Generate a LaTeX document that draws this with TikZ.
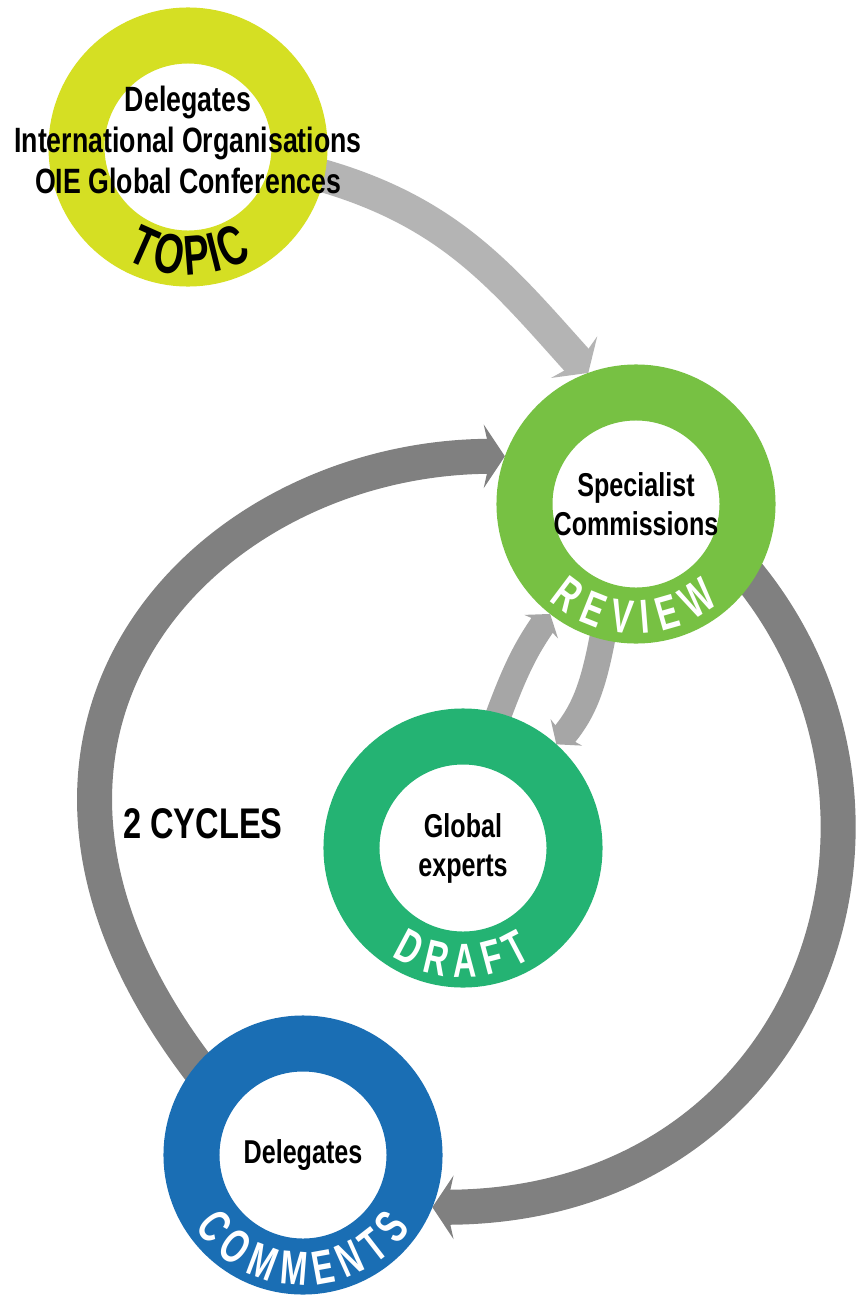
\documentclass[tikz,border=0pt]{standalone}
\usepackage{fontspec}
\setmainfont{Liberation Sans}[FakeStretch=0.76]
\newfontfamily\stagefont{Liberation Sans}[FakeStretch=0.68]
\usetikzlibrary{arrows.meta}
\usetikzlibrary{positioning}
\usetikzlibrary{backgrounds}
\definecolor{topicyellow}{RGB}{213,223,35}
\definecolor{reviewgreen}{RGB}{119,193,67}
\definecolor{draftgreen}{RGB}{36,179,115}
\definecolor{commentsblue}{RGB}{26,110,180}
\definecolor{cycledark}{RGB}{128,128,128}
\definecolor{topicgray}{RGB}{180,180,180}
\definecolor{draftgray}{RGB}{166,166,166}
\tikzset{x=0.025cm, y=0.025cm,
    stage/.style={
        circle,
        draw=#1,
        line width=1.4cm,
        minimum size=5.575cm,
        inner sep=0pt,
        fill=white,
        align=center,
        font=\bfseries\fontsize{23.5}{27.7}\selectfont},
    stagetext/.style={
        align=center,
        font=\bfseries\fontsize{25}{29.2}\selectfont},
    stagelabel/.style={
        inner sep=0pt,
        text=white,
        font=\stagefont\bfseries\fontsize{34}{34}\selectfont},
    bigarrow/.style={
        draw=cycledark,
        line width=0.875cm,
        shorten <=-10pt,
        -{Stealth[length=15pt,width=45pt,inset=5pt]}},
    topicarrow/.style={
        draw=topicgray,
        line width=0.82cm,
        shorten <=-10pt,
        -{Stealth[length=15pt,width=44pt,inset=5pt]}},
    shortarrow/.style={
        draw=draftgray,
        line width=0.65cm,
        shorten <=-10pt,
        -{Stealth[length=11pt,width=29pt,inset=3pt]}}}

\begin{document}
\begin{tikzpicture}
    \useasboundingbox (0,0) rectangle (859,-1295);
    \node[stage=topicyellow] (topic) at (188,-147) {};
    \node[stagetext] (topictext) at (188,-140) {Delegates\\International Organisations\\OIE Global Conferences};
    \node[stage=reviewgreen] (review) at (636,-504) {Specialist\\Commissions};
    \node[stage=draftgreen] (draft) at (463,-848) {Global\\experts};
    \node[stage=commentsblue] (comments) at (303,-1155) {Delegates};
    \node[font=\bfseries\fontsize{30.5}{30.5}\selectfont, left=0.95cm of draft.170] (cycles) {2 CYCLES};
    % ring labels, letter by letter
    \foreach \ch/\ang [count=\i] in {T/246,O/260,P/274.5,I/284,C/294.1}
        \path (topic.center) ++(\ang:109) node[stagelabel, text=black, font=\stagefont\bfseries\fontsize{40}{40}\selectfont, rotate=\ang+90] (topicL\i) {\ch};
    \foreach \ch/\ang [count=\i] in {R/233,E/248.2,V/263,I/274.5,E/286,W/303}
        \path (review.center) ++(\ang:113) node[stagelabel, rotate=\ang+90] (reviewL\i) {\ch};
    \foreach \ch/\ang [count=\i] in {D/242,R/256.6,A/271.1,F/284.8,T/297.7}
        \path (draft.center) ++(\ang:113) node[stagelabel, rotate=\ang+90] (draftL\i) {\ch};
    \foreach \ch/\ang [count=\i] in {C/219,O/233.8,M/249.4,M/265.5,E/280.3,N/294.2,T/307.8,S/320.9}
        \path (comments.center) ++(\ang:114) node[stagelabel, rotate=\ang+90] (commentsL\i) {\ch};
    \begin{pgfonlayer}{background}
        \fill[white] (0,0) rectangle (859,-1295);
        \draw (topic.-12) edge[topicarrow, out=-15, in=132] (review.110);
        \draw (comments.140) edge[bigarrow, out=128, in=180, out distance=10.5cm, in distance=7.5cm] (review.160);
        \draw (review.-33) edge[bigarrow, out=-50, in=0, out distance=7.5cm, in distance=9.5cm] (comments.-22);
        \draw (draft.75) edge[shortarrow, out=70, in=235] (review.232);
        \draw (review.256) edge[shortarrow, out=260, in=50] (draft.48);
    \end{pgfonlayer}
\end{tikzpicture}
\end{document}
